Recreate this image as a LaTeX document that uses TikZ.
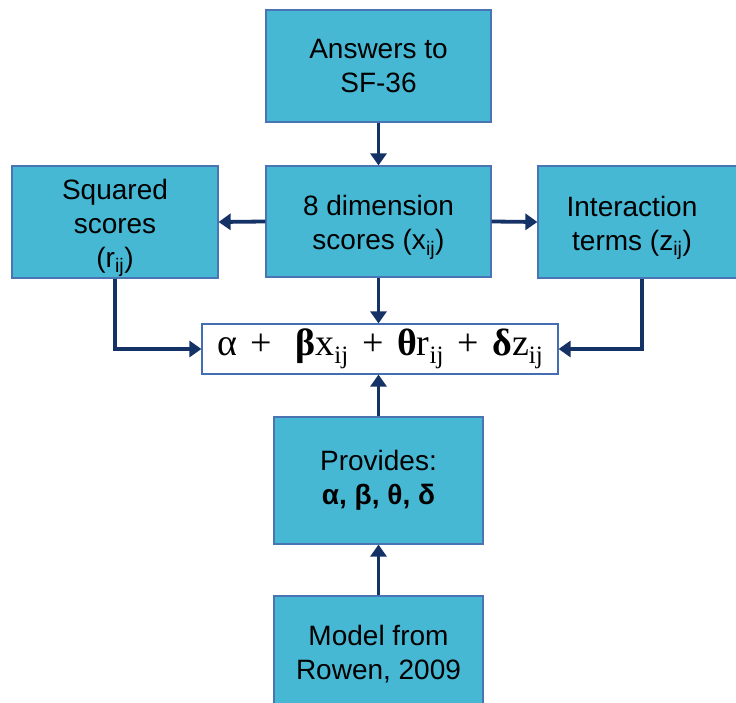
\documentclass[tikz,border=0pt]{standalone}
\usepackage{fontspec}
\setmainfont{Liberation Sans}
\newfontfamily\formfont{Liberation Serif}
\usetikzlibrary{arrows.meta}
\definecolor{boxfill}{RGB}{70,184,212}
\definecolor{boxline}{RGB}{74,116,180}
\definecolor{arr}{RGB}{20,50,102}
\definecolor{fline}{RGB}{68,110,180}
\newcommand{\sbs}[1]{\textsubscript{#1}}
\newcommand{\fsb}[1]{\raisebox{-0.22em}{\fontsize{25}{25}\selectfont #1}}
\newcommand{\fplus}{\hspace{0.36em}+\hspace{0.36em}}
\newcommand{\lowstrut}{\rule{0pt}{32pt}}
\begin{document}
\begin{tikzpicture}[x=1pt,y=-1pt,
  bluebox/.style={draw=boxline,fill=boxfill,line width=1.2pt,inner sep=0pt,
    align=center,font=\fontsize{28}{34}\selectfont,text=black},
  conn/.style={draw=arr,line width=3.8pt,-{Triangle[width=16pt,length=12pt]}}]
\useasboundingbox (0,0) rectangle (736,703);
\fill[white] (0,0) rectangle (736,703);
\node[bluebox,minimum width=225pt,minimum height=112pt] (top) at (378.5,66) {Answers to\\SF-36};
\node[bluebox,minimum width=225pt,minimum height=111pt] (mid) at (378.5,221.5) {\lowstrut 8 dimension\\scores (x\sbs{ij})};
\node[bluebox,minimum width=206pt,minimum height=112pt] (left) at (115,222) {\lowstrut Squared\\scores\\(r\sbs{ij})};
\node[bluebox,minimum width=204pt,minimum height=112pt] (right) at (640,222) {\lowstrut\hspace*{-16pt}Interaction\\\hspace*{-16pt}terms (z\sbs{ij})};
\node[draw=fline,fill=white,line width=1.2pt,minimum width=356pt,minimum height=50pt,inner sep=0pt] (form) at (380,349)
  {\formfont\fontsize{38}{38}\selectfont\raisebox{-3pt}{α\fplus\ \textbf{β}x\fsb{ij}\fplus\textbf{θ}r\fsb{ij}\fplus\textbf{δ}z\fsb{ij}}};
\node[bluebox,minimum width=209pt,minimum height=127pt] (prov) at (378.5,480.5) {Provides:\\\textbf{α, β, θ, δ}};
\node[bluebox,minimum width=209pt,minimum height=116pt] (model) at (378.5,654) {Model from\\Rowen, 2009};
\draw[conn] (top.south) -- (mid.north);
\draw[conn] (mid.west) -- (left.east);
\draw[conn] (mid.east) -- (right.west);
\draw[conn] (mid.south) -- (form.north -| mid.south);
\draw[conn] (left.south) |- (form.west);
\draw[conn] (right.south -| 642,0) |- (form.east);
\draw[conn] (prov.north -| mid.south) -- (form.south -| mid.south);
\draw[conn] (model.north) -- (prov.south);
\end{tikzpicture}
\end{document}
